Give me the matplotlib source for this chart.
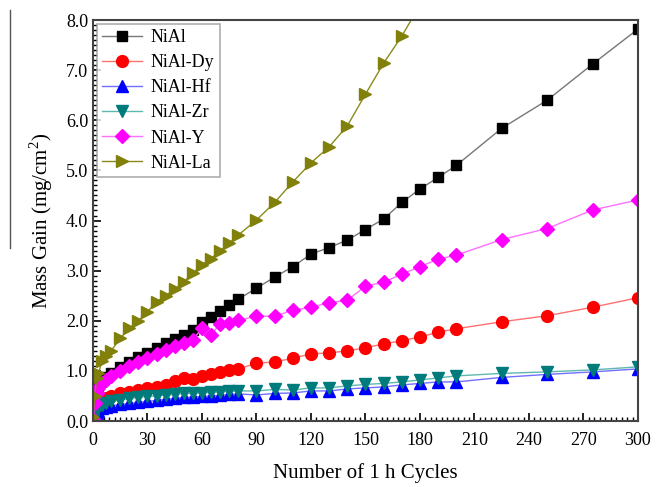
import matplotlib
matplotlib.use('Agg')
import matplotlib.pyplot as plt
from matplotlib.lines import Line2D
from matplotlib.ticker import MultipleLocator

plt.rcParams['font.family'] = 'Liberation Serif'
plt.rcParams['mathtext.fontset'] = 'custom'
plt.rcParams['mathtext.rm'] = 'Liberation Serif'

# DATA
cycles = [0, 1, 2, 3, 5, 7, 10, 15, 20, 25, 30, 35, 40, 45, 50, 55, 60, 65, 70, 75, 80,
          90, 100, 110, 120, 130, 140, 150, 160, 170, 180, 190, 200, 225, 250, 275, 300]

nial = [0.05, 0.45, 0.6, 0.7, 0.8, 0.88, 0.95, 1.08, 1.18, 1.28, 1.36, 1.45, 1.55, 1.64, 1.72,
        1.82, 1.97, 2.07, 2.19, 2.31, 2.43,
        2.65, 2.87, 3.08, 3.33, 3.46, 3.61, 3.82, 4.03, 4.36, 4.63, 4.86, 5.10, 5.84, 6.40, 7.12, 7.82]
nial_dy = [0.02, 0.2, 0.3, 0.36, 0.42, 0.46, 0.5, 0.55, 0.58, 0.62, 0.65, 0.68, 0.72, 0.8, 0.86,
           0.84, 0.9, 0.94, 0.98, 1.02, 1.04,
           1.15, 1.18, 1.25, 1.34, 1.36, 1.40, 1.46, 1.54, 1.60, 1.68, 1.77, 1.84, 1.98, 2.10, 2.27, 2.46]
nial_hf = [0.02, 0.1, 0.15, 0.2, 0.25, 0.28, 0.3, 0.33, 0.35, 0.37, 0.39, 0.41, 0.43, 0.45, 0.47,
           0.48, 0.49, 0.5, 0.51, 0.53, 0.54,
           0.52, 0.55, 0.56, 0.60, 0.60, 0.64, 0.66, 0.68, 0.72, 0.75, 0.78, 0.78, 0.87, 0.93, 0.98, 1.04]
nial_zr = [0.03, 0.15, 0.22, 0.27, 0.32, 0.36, 0.39, 0.42, 0.45, 0.47, 0.49, 0.5, 0.52, 0.53, 0.55,
           0.55, 0.56, 0.57, 0.58, 0.59, 0.6,
           0.6, 0.63, 0.62, 0.66, 0.66, 0.70, 0.73, 0.75, 0.78, 0.82, 0.86, 0.90, 0.95, 0.98, 1.02, 1.08]
nial_y = [0.04, 0.35, 0.55, 0.65, 0.75, 0.82, 0.9, 1.0, 1.1, 1.18, 1.26, 1.34, 1.42, 1.5, 1.56,
          1.62, 1.85, 1.72, 1.94, 1.96, 2.01,
          2.09, 2.09, 2.21, 2.27, 2.36, 2.41, 2.69, 2.77, 2.93, 3.08, 3.23, 3.31, 3.62, 3.84, 4.21, 4.41]
nial_la = [0.08, 0.5, 0.85, 0.95, 1.2, 1.3, 1.4, 1.65, 1.85, 2.0, 2.18, 2.38, 2.5, 2.63, 2.78,
           2.95, 3.12, 3.24, 3.4, 3.55, 3.71,
           4.01, 4.36, 4.77, 5.15, 5.47, 5.89, 6.52, 7.14, 7.68, 8.3]
la_cycles = cycles[:len(nial_la)]

labels = ['NiAl', 'NiAl-Dy', 'NiAl-Hf', 'NiAl-Zr', 'NiAl-Y', 'NiAl-La']

fig = plt.figure(figsize=(6.58, 4.87), dpi=100)
ax = fig.add_axes([0.1413, 0.1355, 0.8283, 0.8234])

ms = 8.5
ax.plot(cycles, nial, color='#777777', lw=1, marker='s', ms=ms - 1, mfc='black', mec='black', label=labels[0])
ax.plot(cycles, nial_dy, color='#ff7070', lw=1, marker='o', ms=ms, mfc='red', mec='red', label=labels[1])
ax.plot(cycles, nial_hf, color='#7070ff', lw=1, marker='^', ms=ms, mfc='blue', mec='blue', label=labels[2])
ax.plot(cycles, nial_zr, color='#5fb8b0', lw=1, marker='v', ms=ms, mfc='#007b7b', mec='#007b7b', label=labels[3])
ax.plot(cycles, nial_y, color='#ff70ff', lw=1, marker='D', ms=ms - 1.5, mfc='magenta', mec='magenta', label=labels[4])
ax.plot(la_cycles, nial_la, color='#8a8a1a', lw=1, marker='>', ms=ms, mfc='#80800a', mec='#80800a', label=labels[5])

ax.set_xlim(0, 300)
ax.set_ylim(0, 8.0)
ax.xaxis.set_major_locator(MultipleLocator(30))
ax.xaxis.set_minor_locator(MultipleLocator(3))
ax.yaxis.set_major_locator(MultipleLocator(1.0))
ax.yaxis.set_minor_locator(MultipleLocator(0.1))
ax.yaxis.set_major_formatter(lambda v, p: f'{v:.1f}')
ax.tick_params(which='both', direction='in', top=False, right=False, labelsize=13, colors='black')
ax.tick_params(which='major', length=6, width=1.2)
ax.tick_params(which='minor', length=3, width=1)
ax.tick_params(axis='x', pad=8)
for s in ax.spines.values():
    s.set_linewidth(1.5)
    s.set_color('#444444')

ax.set_xlabel('Number of 1 h Cycles', fontsize=15, labelpad=10)
ax.set_ylabel('Mass Gain (mg/cm$^2$)', fontsize=15, labelpad=8)

leg = ax.legend(loc='upper left', fontsize=13, fancybox=False, edgecolor='#999999',
                borderaxespad=0.2, handlelength=2.2, handletextpad=0.5,
                labelspacing=0.45, borderpad=0.3)
leg.get_frame().set_linewidth(1.2)

# stray line next to the y label in the reference
fig.add_artist(Line2D([10 / 658, 10 / 658], [1 - 10 / 487, 1 - 248 / 487], color='#555555', lw=1))

fig.savefig('out.png', dpi=100)
